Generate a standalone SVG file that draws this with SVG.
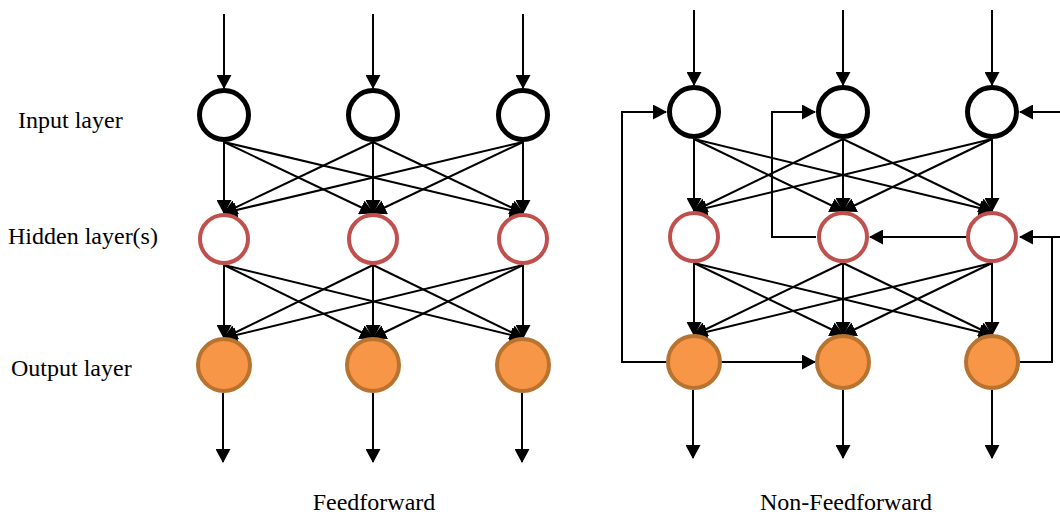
<svg xmlns="http://www.w3.org/2000/svg" width="1060" height="515" viewBox="0 0 1060 515">
<style>
.lbl{font-family:"Liberation Serif","Times New Roman",serif;font-size:24px;fill:#000}
.in{fill:#fff;stroke:#000;stroke-width:5}
.hid{fill:#fff;stroke:#c0504d;stroke-width:4}
.out{fill:#f79646;stroke:#b7732f;stroke-width:4}
.c{fill:none;stroke:#000;stroke-width:2;marker-end:url(#ah)}
.p{fill:none;stroke:#000;stroke-width:2}
</style>
<defs>
<marker id="ah" viewBox="0 0 14 15" refX="13" refY="7.5" markerWidth="14" markerHeight="15" markerUnits="userSpaceOnUse" orient="auto">
<path d="M0,0 L14,7.5 L0,15 z" fill="#000"/>
</marker>
</defs>
<rect width="1060" height="515" fill="#fff"/>
<g id="labels">
<text class="lbl" x="18" y="128">Input layer</text>
<text class="lbl" x="8" y="244">Hidden layer(s)</text>
<text class="lbl" x="11" y="376">Output layer</text>
<text class="lbl" x="374" y="510" text-anchor="middle">Feedforward</text>
<text class="lbl" x="846" y="510" text-anchor="middle">Non-Feedforward</text>
</g>
<g id="connectors">
<!-- Left inputs -->
<line class="c" x1="224" y1="14" x2="224" y2="88"/>
<line class="c" x1="373" y1="14" x2="373" y2="88"/>
<line class="c" x1="523" y1="14" x2="523" y2="88"/>
<!-- Left input to hidden -->
<line class="c" x1="224" y1="142" x2="224" y2="213"/>
<line class="c" x1="224" y1="142" x2="373" y2="213"/>
<line class="c" x1="224" y1="142" x2="523" y2="213"/>
<line class="c" x1="373" y1="142" x2="224" y2="213"/>
<line class="c" x1="373" y1="142" x2="373" y2="213"/>
<line class="c" x1="373" y1="142" x2="523" y2="213"/>
<line class="c" x1="523" y1="142" x2="224" y2="213"/>
<line class="c" x1="523" y1="142" x2="373" y2="213"/>
<line class="c" x1="523" y1="142" x2="523" y2="213"/>
<!-- Left hidden to output -->
<line class="c" x1="224" y1="265" x2="224" y2="338"/>
<line class="c" x1="224" y1="265" x2="373" y2="338"/>
<line class="c" x1="224" y1="265" x2="523" y2="338"/>
<line class="c" x1="373" y1="265" x2="224" y2="338"/>
<line class="c" x1="373" y1="265" x2="373" y2="338"/>
<line class="c" x1="373" y1="265" x2="523" y2="338"/>
<line class="c" x1="523" y1="265" x2="224" y2="338"/>
<line class="c" x1="523" y1="265" x2="373" y2="338"/>
<line class="c" x1="523" y1="265" x2="523" y2="338"/>
<!-- Left outputs -->
<line class="c" x1="223" y1="393" x2="223" y2="462"/>
<line class="c" x1="373" y1="393" x2="373" y2="462"/>
<line class="c" x1="522" y1="393" x2="522" y2="462"/>
<!-- Right inputs -->
<line class="c" x1="694" y1="10" x2="694" y2="85"/>
<line class="c" x1="843" y1="10" x2="843" y2="85"/>
<line class="c" x1="992" y1="10" x2="992" y2="85"/>
<!-- Right input to hidden -->
<line class="c" x1="694" y1="139" x2="694" y2="211"/>
<line class="c" x1="694" y1="139" x2="843" y2="211"/>
<line class="c" x1="694" y1="139" x2="992" y2="211"/>
<line class="c" x1="843" y1="139" x2="694" y2="211"/>
<line class="c" x1="843" y1="139" x2="843" y2="211"/>
<line class="c" x1="843" y1="139" x2="992" y2="211"/>
<line class="c" x1="992" y1="139" x2="694" y2="211"/>
<line class="c" x1="992" y1="139" x2="843" y2="211"/>
<line class="c" x1="992" y1="139" x2="992" y2="211"/>
<!-- Right hidden to output -->
<line class="c" x1="694" y1="263" x2="694" y2="335"/>
<line class="c" x1="694" y1="263" x2="843" y2="335"/>
<line class="c" x1="694" y1="263" x2="992" y2="335"/>
<line class="c" x1="843" y1="263" x2="694" y2="335"/>
<line class="c" x1="843" y1="263" x2="843" y2="335"/>
<line class="c" x1="843" y1="263" x2="992" y2="335"/>
<line class="c" x1="992" y1="263" x2="694" y2="335"/>
<line class="c" x1="992" y1="263" x2="843" y2="335"/>
<line class="c" x1="992" y1="263" x2="992" y2="335"/>
<!-- Right outputs -->
<line class="c" x1="693" y1="390" x2="693" y2="458"/>
<line class="c" x1="843" y1="390" x2="843" y2="458"/>
<line class="c" x1="992" y1="390" x2="992" y2="458"/>
<!-- Feedback / lateral -->
<polyline class="c" points="667,362 622,362 622,112 666,112"/>
<polyline class="c" points="816,237 772,237 772,112 815,112"/>
<line class="c" x1="966" y1="237" x2="870" y2="237"/>
<line class="c" x1="721" y1="362" x2="815" y2="362"/>
<polyline class="c" points="1020,362 1052,362 1052,237 1020,237"/>
<line class="p" x1="1052" y1="237" x2="1060" y2="237"/>
<line class="c" x1="1060" y1="112" x2="1020" y2="112"/>
</g>
<g id="left-input-1"><circle class="in" cx="224" cy="115" r="24.5"/></g>
<g id="left-input-2"><circle class="in" cx="373" cy="115" r="24.5"/></g>
<g id="left-input-3"><circle class="in" cx="523" cy="115" r="24.5"/></g>
<g id="left-hidden-1"><circle class="hid" cx="224" cy="239" r="24"/></g>
<g id="left-hidden-2"><circle class="hid" cx="373" cy="239" r="24"/></g>
<g id="left-hidden-3"><circle class="hid" cx="523" cy="239" r="24"/></g>
<g id="left-output-1"><circle class="out" cx="224" cy="365" r="26"/></g>
<g id="left-output-2"><circle class="out" cx="373" cy="365" r="26"/></g>
<g id="left-output-3"><circle class="out" cx="523" cy="365" r="26"/></g>
<g id="right-input-1"><circle class="in" cx="694" cy="112" r="24.5"/></g>
<g id="right-input-2"><circle class="in" cx="843" cy="112" r="24.5"/></g>
<g id="right-input-3"><circle class="in" cx="992" cy="112" r="24.5"/></g>
<g id="right-hidden-1"><circle class="hid" cx="694" cy="237" r="24"/></g>
<g id="right-hidden-2"><circle class="hid" cx="843" cy="237" r="24"/></g>
<g id="right-hidden-3"><circle class="hid" cx="992" cy="237" r="24"/></g>
<g id="right-output-1"><circle class="out" cx="694" cy="362" r="26"/></g>
<g id="right-output-2"><circle class="out" cx="843" cy="362" r="26"/></g>
<g id="right-output-3"><circle class="out" cx="992" cy="362" r="26"/></g>
</svg>
